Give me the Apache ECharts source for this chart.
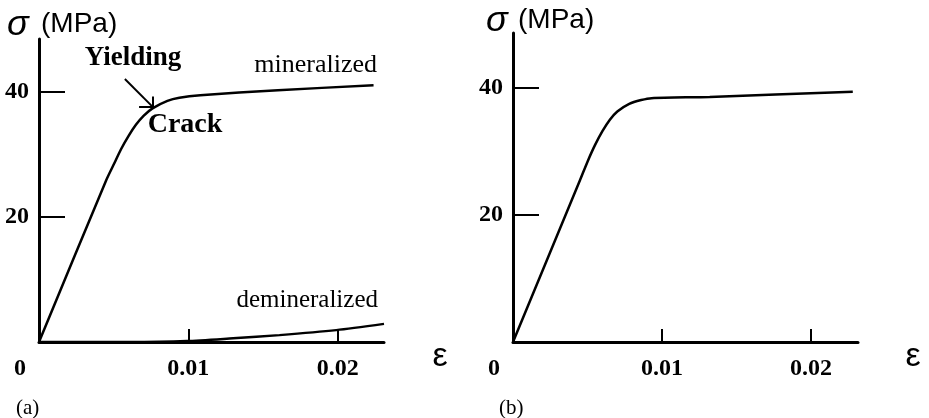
<!DOCTYPE html>
<html>
<head>
<meta charset="utf-8">
<script src="https://cdn.jsdelivr.net/npm/echarts@6/dist/echarts.min.js"></script>
<style>html,body{margin:0;padding:0;background:#fff;}#c{width:929px;height:418px;}</style>
</head>
<body>
<div id="c"></div>
<script>
// ---- data ----
const xTicks = [0.01, 0.02];
const yTicks = [20, 40];
const mineralizedA = [[0,0],[0.0045,25.9],[0.0050,28.4],[0.0055,30.9],[0.0060,33.0],[0.0065,34.8],[0.0070,36.2],[0.0076,37.4],[0.0086,38.6],[0.0094,39.1],[0.0108,39.5],[0.0160,40.3],[0.0224,41.1]];
const demineralizedA = [[0,0],[0.003,0],[0.006,0],[0.0099,0.15],[0.013,0.6],[0.0161,1.1],[0.0199,1.9],[0.0231,2.9]];
const curveB = [[0,0],[0.0045,25.5],[0.0050,28.4],[0.0055,31.0],[0.0060,33.2],[0.0065,35.0],[0.0070,36.3],[0.0078,37.5],[0.0086,38.1],[0.0093,38.4],[0.0132,38.6],[0.0228,39.4]];
const arrowTail = [0.00575, 42.1];
const arrowTip = [0.00763, 37.6];
const arrowHeadH = [0.00670, 37.6];
const arrowHeadV = [0.00763, 39.3];

const serif = '"Liberation Serif", "Times New Roman", serif';
const sans = '"Liberation Sans", Arial, sans-serif';
const black = '#000';

function xAxisDef(gridIndex, max) {
  return {
    type: 'value', gridIndex, min: 0, max, interval: 0.01,
    axisLine: {show: true, lineStyle: {color: black, width: 3}},
    axisTick: {show: true, inside: true, length: 13, lineStyle: {color: black, width: 2}, customValues: xTicks},
    axisLabel: {
      show: true, margin: 15, color: black, fontFamily: serif, fontWeight: 'bold', fontSize: 24,
      customValues: [0].concat(xTicks),
      formatter: v => v === 0 ? '{z|0}' : String(Math.round(v * 100) / 100),
      rich: {z: {fontFamily: serif, fontWeight: 'bold', fontSize: 24, color: black, padding: [0, 38, 0, 0]}}
    },
    splitLine: {show: false}
  };
}
function yAxisDef(gridIndex, max) {
  return {
    type: 'value', gridIndex, min: 0, max, interval: 20,
    axisLine: {show: true, lineStyle: {color: black, width: 3}},
    axisTick: {show: true, inside: true, length: 26, lineStyle: {color: black, width: 2}, customValues: yTicks},
    axisLabel: {show: true, margin: 10, color: black, fontFamily: serif, fontWeight: 'bold', fontSize: 24, customValues: yTicks},
    splitLine: {show: false}
  };
}
const lineStyle = {color: black, width: 2.5};

const chart = echarts.init(document.getElementById('c'), null, {renderer: 'canvas'});
chart.setOption({
  animation: false,
  backgroundColor: '#fff',
  grid: [
    {left: 39, top: 39, width: 345, bottom: 76},
    {left: 513, top: 33, width: 345, bottom: 76}
  ],
  xAxis: [xAxisDef(0, 0.0231), xAxisDef(1, 0.02315)],
  yAxis: [yAxisDef(0, 48.5), yAxisDef(1, 48.66)],
  series: [
    {type: 'line', xAxisIndex: 0, yAxisIndex: 0, data: mineralizedA, showSymbol: false, smooth: 0.25, lineStyle, clip: false,
      markLine: {silent: true, symbol: ['none', 'none'], label: {show: false}, lineStyle: {color: black, width: 2, type: 'solid'},
        data: [[{coord: arrowTail}, {coord: arrowTip}], [{coord: arrowHeadH}, {coord: arrowTip}], [{coord: arrowHeadV}, {coord: arrowTip}]]}},
    {type: 'line', xAxisIndex: 0, yAxisIndex: 0, data: demineralizedA, showSymbol: false, smooth: 0.25, lineStyle, clip: false},
    {type: 'line', xAxisIndex: 1, yAxisIndex: 1, data: curveB, showSymbol: false, smooth: 0.25, lineStyle, clip: false}
  ],
  graphic: [
    {type: 'text', x: 7, y: 25, style: {text: 'σ', font: 'italic 36px ' + sans, fill: black, textVerticalAlign: 'middle'}},
    {type: 'text', x: 41, y: 24, style: {text: '(MPa)', font: '28px ' + sans, fill: black, textVerticalAlign: 'middle'}},
    {type: 'text', x: 486, y: 21, style: {text: 'σ', font: 'italic 36px ' + sans, fill: black, textVerticalAlign: 'middle'}},
    {type: 'text', x: 518, y: 20, style: {text: '(MPa)', font: '28px ' + sans, fill: black, textVerticalAlign: 'middle'}},
    {type: 'text', x: 440, y: 357, style: {text: 'ε', font: '34px ' + sans, fill: black, textAlign: 'center', textVerticalAlign: 'middle'}},
    {type: 'text', x: 913, y: 357, style: {text: 'ε', font: '34px ' + sans, fill: black, textAlign: 'center', textVerticalAlign: 'middle'}},
    {type: 'text', x: 133, y: 58, style: {text: 'Yielding', font: 'bold 27px ' + serif, fill: black, textAlign: 'center', textVerticalAlign: 'middle'}},
    {type: 'text', x: 185, y: 125, style: {text: 'Crack', font: 'bold 28px ' + serif, fill: black, textAlign: 'center', textVerticalAlign: 'middle'}},
    {type: 'text', x: 377, y: 65, style: {text: 'mineralized', font: '26px ' + serif, fill: black, textAlign: 'right', textVerticalAlign: 'middle'}},
    {type: 'text', x: 378, y: 300, style: {text: 'demineralized', font: '25px ' + serif, fill: black, textAlign: 'right', textVerticalAlign: 'middle'}},
    {type: 'text', x: 16, y: 408, style: {text: '(a)', font: '21px ' + serif, fill: black, textVerticalAlign: 'middle'}},
    {type: 'text', x: 499, y: 408, style: {text: '(b)', font: '21px ' + serif, fill: black, textVerticalAlign: 'middle'}}
  ]
});
</script>
</body>
</html>
